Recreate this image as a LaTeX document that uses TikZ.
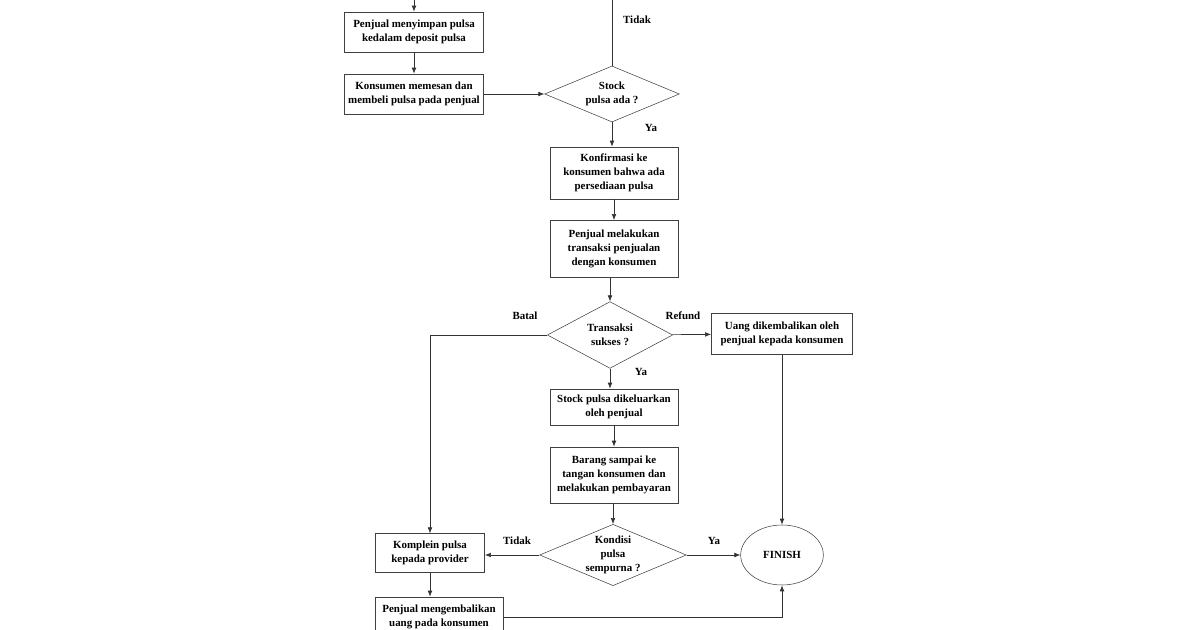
\documentclass[tikz,border=0pt]{standalone}
\usepackage{fontspec}
\setmainfont{Liberation Serif}
\usetikzlibrary{arrows.meta,shapes.geometric}

\begin{document}
\begin{tikzpicture}[x=0.75pt,y=-0.75pt,
  every node/.style={font=\bfseries\fontsize{8.2}{10.5}\selectfont,align=center},
  proses/.style={draw=black!75,rectangle,inner sep=2pt},
  pilih/.style={draw=black!75,diamond,inner sep=0pt},
  alur/.style={draw=black!80,line width=0.5pt,-{Latex[length=4.5pt,width=3.5pt]}},
  garis/.style={draw=black!80,line width=0.5pt}]
  \useasboundingbox (0,0) rectangle (1200,630);
  % kolom kiri atas
  \coordinate (masuk) at (414,-5);
  \node[proses,minimum width=104pt,minimum height=30pt] (simpan) at (414,32) {Penjual menyimpan pulsa\\kedalam deposit pulsa};
  \node[proses,minimum width=104pt,minimum height=30pt] (pesan) at (414,94) {Konsumen memesan dan\\membeli pulsa pada penjual};
  % kolom tengah
  \coordinate (atas) at (612,-5);
  \node[pilih,aspect=2.4,minimum width=101pt,minimum height=42pt] (stok) at (612,94) {Stock\\pulsa ada ?};
  \node[proses,minimum width=96pt,minimum height=39pt] (konfirmasi) at (614,173) {Konfirmasi ke\\konsumen bahwa ada\\persediaan pulsa};
  \node[proses,minimum width=96pt,minimum height=43pt] (transaksi) at (614,249) {Penjual melakukan\\transaksi penjualan\\dengan konsumen};
  \node[pilih,aspect=1.9,minimum width=94pt,minimum height=50pt] (sukses) at (610,335) {Transaksi\\sukses ?};
  \node[proses,minimum width=96pt,minimum height=27pt] (keluar) at (614,407) {Stock pulsa dikeluarkan\\oleh penjual};
  \node[proses,minimum width=96pt,minimum height=42pt] (sampai) at (614,475) {Barang sampai ke\\tangan konsumen dan\\melakukan pembayaran};
  \node[pilih,aspect=2.4,minimum width=110pt,minimum height=46pt] (kondisi) at (613,555) {Kondisi\\pulsa\\sempurna ?};
  % kanan dan kiri bawah
  \node[proses,minimum width=106pt,minimum height=31pt] (uang) at (782,334) {Uang dikembalikan oleh\\penjual kepada konsumen};
  \node[draw=black!75,ellipse,minimum width=62pt,minimum height=45pt,inner sep=0pt] (finish) at (782,555) {FINISH};
  \node[proses,minimum width=82pt,minimum height=29pt] (komplein) at (430,553) {Komplein pulsa\\kepada provider};
  \node[proses,minimum width=96pt,minimum height=30pt] (balik) at (439,617) {Penjual mengembalikan\\uang pada konsumen};
  % label
  \node (tidak1) at (637,20) {Tidak};
  \node (ya1) at (651,128) {Ya};
  \node (batal) at (525,316) {Batal};
  \node (refund) at (683,316) {Refund};
  \node (ya2) at (641,372) {Ya};
  \node (tidak2) at (517,541) {Tidak};
  \node (ya3) at (714,541) {Ya};
  % panah
  \draw[alur] (masuk) -- (simpan);
  \draw[alur] (simpan) -- (pesan);
  \draw[alur] (pesan) -- (stok);
  \draw[garis] (stok) -- (atas);
  \draw[alur] (stok.south) -- (stok.south |- konfirmasi.north);
  \draw[alur] (konfirmasi) -- (transaksi);
  \draw[alur] (sukses.north |- transaksi.south) -- (sukses.north);
  \draw[alur] (sukses.west) -| (komplein.north);
  \draw[alur] (sukses) -- (uang);
  \draw[alur] (uang) -- (finish);
  \draw[alur] (sukses.south) -- (sukses.south |- keluar.north);
  \draw[alur] (keluar) -- (sampai);
  \draw[alur] (kondisi.north |- sampai.south) -- (kondisi.north);
  \draw[alur] (kondisi) -- (komplein.east |- kondisi.west);
  \draw[alur] (kondisi) -- (finish);
  \draw[alur] (komplein.south) -- (komplein.south |- balik.north);
  \draw[alur] (balik.east) -| (finish.south);
\end{tikzpicture}
\end{document}
